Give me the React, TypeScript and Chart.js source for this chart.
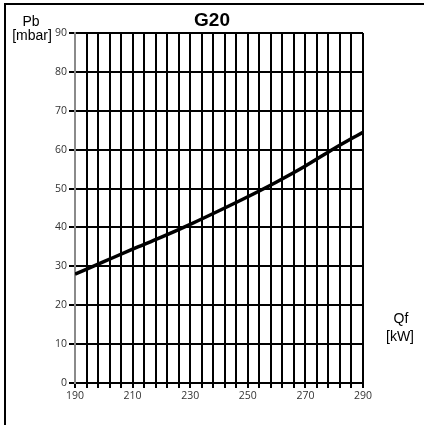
import React, { useEffect, useRef } from "react";
import { Chart, registerables } from "chart.js";

Chart.register(...registerables);

const title = "G20";
const yTitleLines = ["Pb", "[mbar]"];
const xTitleLines = ["Qf", "[kW]"];
const powerKW = [190, 200, 210, 220, 230, 240, 250, 260, 270, 280, 290];
const pressureMbar = [28, 31.2, 34.4, 37.5, 40.8, 44.3, 47.9, 51.7, 55.8, 60.3, 64.5];
const xMin = 190;
const xMax = 290;
const xStep = 4;
const xLabelStep = 20;
const yMin = 0;
const yMax = 90;
const yStep = 10;

const decorPlugin = {
  id: "decor",
  beforeDraw(chart: any) {
    const ctx = chart.ctx;
    ctx.save();
    ctx.fillStyle = "#ffffff";
    ctx.fillRect(0, 0, chart.width, chart.height);
    ctx.strokeStyle = "#000000";
    ctx.lineWidth = 2;
    ctx.beginPath();
    ctx.moveTo(5, chart.height);
    ctx.lineTo(5, 4);
    ctx.lineTo(chart.width, 4);
    ctx.stroke();
    ctx.restore();
  },
  afterDraw(chart: any) {
    const ctx = chart.ctx;
    ctx.save();
    ctx.fillStyle = "#000000";
    ctx.textAlign = "center";
    ctx.textBaseline = "alphabetic";
    ctx.font = "bold 19px 'Liberation Sans', Arial, sans-serif";
    ctx.fillText(title, 212, 26);
    ctx.font = "14px 'Liberation Sans Narrow', 'Liberation Sans', Arial, sans-serif";
    ctx.fillText(yTitleLines[0], 31, 26);
    ctx.fillText(yTitleLines[1], 32, 40);
    ctx.fillText(xTitleLines[0], 401, 323);
    ctx.fillText(xTitleLines[1], 400, 341);
    ctx.restore();
  },
};

export default function App() {
  const canvasRef = useRef<HTMLCanvasElement | null>(null);

  useEffect(() => {
    if (!canvasRef.current) return;
    const chart = new Chart(canvasRef.current, {
      type: "line",
      data: {
        datasets: [
          {
            data: powerKW.map((x, i) => ({ x, y: pressureMbar[i] })),
            borderColor: "#000000",
            borderWidth: 3.5,
            pointRadius: 0,
            cubicInterpolationMode: "monotone",
            fill: false,
          },
        ],
      },
      options: {
        responsive: false,
        animation: false,
        events: [],
        layout: { padding: { left: 0, top: 33, right: 61, bottom: 0 } },
        plugins: {
          legend: { display: false },
          title: { display: false },
          tooltip: { enabled: false },
        },
        scales: {
          x: {
            type: "linear",
            min: xMin,
            max: xMax,
            afterFit(scale: any) {
              scale.height = 42;
            },
            afterBuildTicks(scale: any) {
              const t = [];
              for (let v = xMin; v <= xMax; v += xStep) t.push({ value: v });
              scale.ticks = t;
            },
            ticks: {
              autoSkip: false,
              maxRotation: 0,
              padding: 2,
              color: "#333333",
              font: { family: "'Open Sans', sans-serif", size: 10.5 },
              callback: (v: any) => ((v - xMin) % xLabelStep === 0 ? String(v) : ""),
            },
            grid: {
              color: "#000000",
              lineWidth: 2,
              tickLength: 5,
              tickColor: "#000000",
            },
            border: { color: "#000000", width: 2 },
          },
          y: {
            type: "linear",
            min: yMin,
            max: yMax,
            afterFit(scale: any) {
              scale.width = 75;
            },
            ticks: {
              stepSize: yStep,
              padding: 2,
              color: "#333333",
              font: { family: "'Open Sans', sans-serif", size: 10.5 },
            },
            grid: {
              color: "#000000",
              lineWidth: 2,
              tickLength: 6,
              tickColor: "#000000",
            },
            border: { color: "#8a8a8a", width: 2 },
          },
        },
      },
      plugins: [decorPlugin],
    });
    return () => chart.destroy();
  }, []);

  return (
    <div style={{ position: "absolute", left: 0, top: 0, width: 424, height: 425 }}>
      <canvas ref={canvasRef} width={424} height={425} style={{ display: "block" }} />
    </div>
  );
}
